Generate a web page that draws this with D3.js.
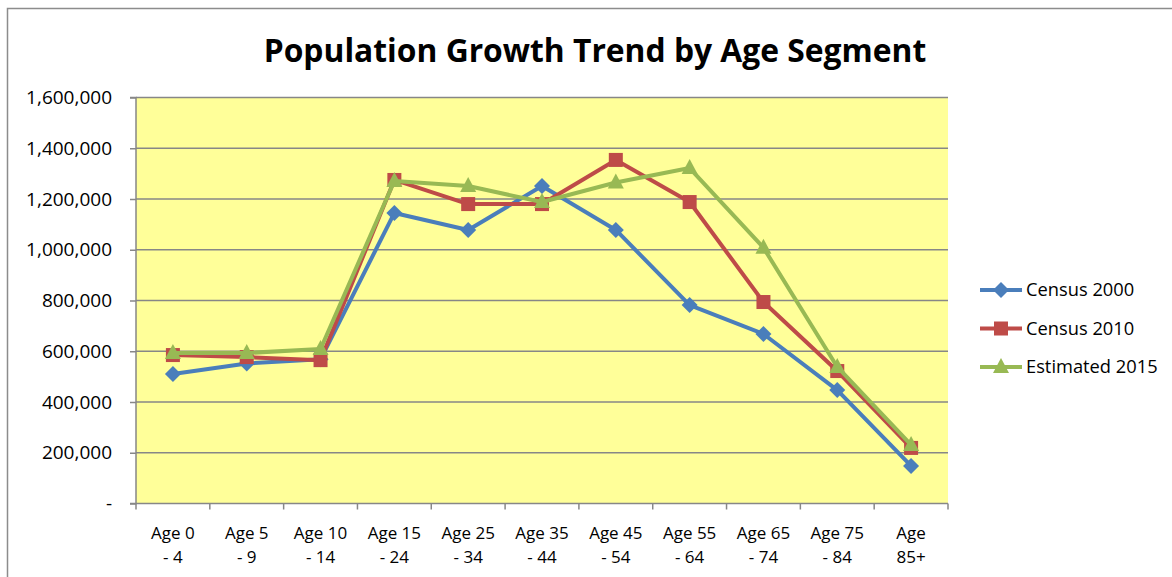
<!DOCTYPE html>
<html>
<head>
<meta charset="utf-8">
<script src="https://cdn.jsdelivr.net/npm/d3@7"></script>
<style>
  html, body { margin: 0; padding: 0; background: #fff; }
  svg { display: block; }
  text { font-family: "Open Sans", "Liberation Sans", sans-serif; fill: #000; }
</style>
</head>
<body>
<svg id="chart" width="1172" height="577"></svg>
<script>
const categories = ["Age 0 - 4", "Age 5 - 9", "Age 10 - 14", "Age 15 - 24", "Age 25 - 34", "Age 35 - 44", "Age 45 - 54", "Age 55 - 64", "Age 65 - 74", "Age 75 - 84", "Age 85+"];
const categoryLines = [["Age 0", "- 4"], ["Age 5", "- 9"], ["Age 10", "- 14"], ["Age 15", "- 24"], ["Age 25", "- 34"], ["Age 35", "- 44"], ["Age 45", "- 54"], ["Age 55", "- 64"], ["Age 65", "- 74"], ["Age 75", "- 84"], ["Age", "85+"]];
const census2000 = [510000, 552000, 568000, 1145000, 1078000, 1251000, 1078000, 782000, 668000, 447000, 148000];
const census2010 = [585000, 577000, 565000, 1275000, 1180000, 1180000, 1354000, 1188000, 794000, 522000, 219000];
const estimated2015 = [593000, 593000, 609000, 1271000, 1251000, 1188000, 1265000, 1322000, 1008000, 538000, 231000];
const seriesNames = ["Census 2000", "Census 2010", "Estimated 2015"];
const yTicks = [0, 200000, 400000, 600000, 800000, 1000000, 1200000, 1400000, 1600000];
const title = "Population Growth Trend by Age Segment";

const colors = ["#4A7EBB", "#BE4B48", "#98B954"];
const markers = ["diamond", "square", "triangle"];
const series = [census2000, census2010, estimated2015];

const svg = d3.select("#chart");
const plot = { left: 136, right: 948, top: 97.5, bottom: 503.5 };

// outer border
svg.append("rect").attr("x", 7.5).attr("y", 8.5).attr("width", 1200).attr("height", 600)
  .attr("fill", "#fff").attr("stroke", "#8c8c8c").attr("stroke-width", 1.5);

// title
svg.append("text").attr("x", 595).attr("y", 62).attr("text-anchor", "middle")
  .style("font-size", "31.8px").style("font-weight", "bold").text(title);

const x = d3.scaleBand().domain(categories).range([plot.left, plot.right]).padding(0);
const y = d3.scaleLinear().domain([0, 1600000]).range([plot.bottom, plot.top]);

// plot area background
svg.append("rect").attr("x", plot.left).attr("y", plot.top)
  .attr("width", plot.right - plot.left).attr("height", plot.bottom - plot.top)
  .attr("fill", "#FFFF99");

// gridlines
svg.append("g").selectAll("line").data(yTicks.filter(d => d > 0)).join("line")
  .attr("x1", plot.left).attr("x2", plot.right)
  .attr("y1", d => y(d)).attr("y2", d => y(d))
  .attr("stroke", "#878787").attr("stroke-width", 1.5);

// y axis
const yAxis = d3.axisLeft(y).tickValues(yTicks).tickSize(6).tickPadding(18)
  .tickFormat(d => d === 0 ? "-" : d3.format(",")(d));
const gy = svg.append("g").attr("transform", `translate(${plot.left},0)`).call(yAxis);
gy.select(".domain").attr("stroke", "#878787").attr("stroke-width", 1.5).attr("d", `M-6,${plot.bottom}H0V${plot.top}H-6`);
gy.selectAll(".tick line").attr("stroke", "#878787").attr("stroke-width", 1.5);
gy.selectAll(".tick text").style("font-size", "19px").style("font-family", "'Open Sans', sans-serif").attr("fill", "#000");

// x axis
const gx = svg.append("g").attr("transform", `translate(0,${plot.bottom})`);
gx.append("line").attr("x1", plot.left).attr("x2", plot.right).attr("y1", 0).attr("y2", 0)
  .attr("stroke", "#878787").attr("stroke-width", 1.5);
const boundaries = categories.map(c => x(c)).concat([x(categories[categories.length - 1]) + x.bandwidth()]);
gx.selectAll("line.tk").data(boundaries).join("line").attr("class", "tk")
  .attr("x1", d => d).attr("x2", d => d).attr("y1", 0).attr("y2", 6)
  .attr("stroke", "#878787").attr("stroke-width", 1.5);
const lbl = gx.selectAll("text.xl").data(categories).join("text").attr("class", "xl")
  .attr("text-anchor", "middle").style("font-size", "17px")
  .attr("transform", d => `translate(${x(d) + x.bandwidth() / 2},0)`);
lbl.each(function(d, i) {
  const t = d3.select(this);
  categoryLines[i].forEach((s, k) => {
    t.append("tspan").attr("x", 0).attr("y", 35 + k * 24).text(s);
  });
});

// lines and markers
const line = d3.line().x((d, i) => x(categories[i]) + x.bandwidth() / 2).y(d => y(d));

function drawMarker(g, type, cx, cy, color) {
  if (type === "diamond") {
    g.append("path").attr("d", `M${cx},${cy-8}L${cx+8},${cy}L${cx},${cy+8}L${cx-8},${cy}Z`).attr("fill", color);
  } else if (type === "square") {
    g.append("rect").attr("x", cx - 7).attr("y", cy - 7).attr("width", 14).attr("height", 14).attr("fill", color);
  } else {
    g.append("path").attr("d", `M${cx},${cy-9}L${cx+8},${cy+6}L${cx-8},${cy+6}Z`).attr("fill", color);
  }
}

series.forEach((vals, si) => {
  const g = svg.append("g");
  g.append("path").datum(vals).attr("d", line).attr("fill", "none")
    .attr("stroke", colors[si]).attr("stroke-width", 4).attr("stroke-linejoin", "round");
  vals.forEach((v, i) => drawMarker(g, markers[si], x(categories[i]) + x.bandwidth() / 2, y(v), colors[si]));
});

// legend
const legend = svg.append("g");
seriesNames.forEach((name, i) => {
  const ly = 290 + i * 38.5;
  legend.append("line").attr("x1", 980).attr("x2", 1022).attr("y1", ly).attr("y2", ly)
    .attr("stroke", colors[i]).attr("stroke-width", 4);
  drawMarker(legend, markers[i], 1001, ly, colors[i]);
  legend.append("text").attr("x", 1026).attr("y", ly + 6).style("font-size", "18.3px").text(name);
});
</script>
</body>
</html>
